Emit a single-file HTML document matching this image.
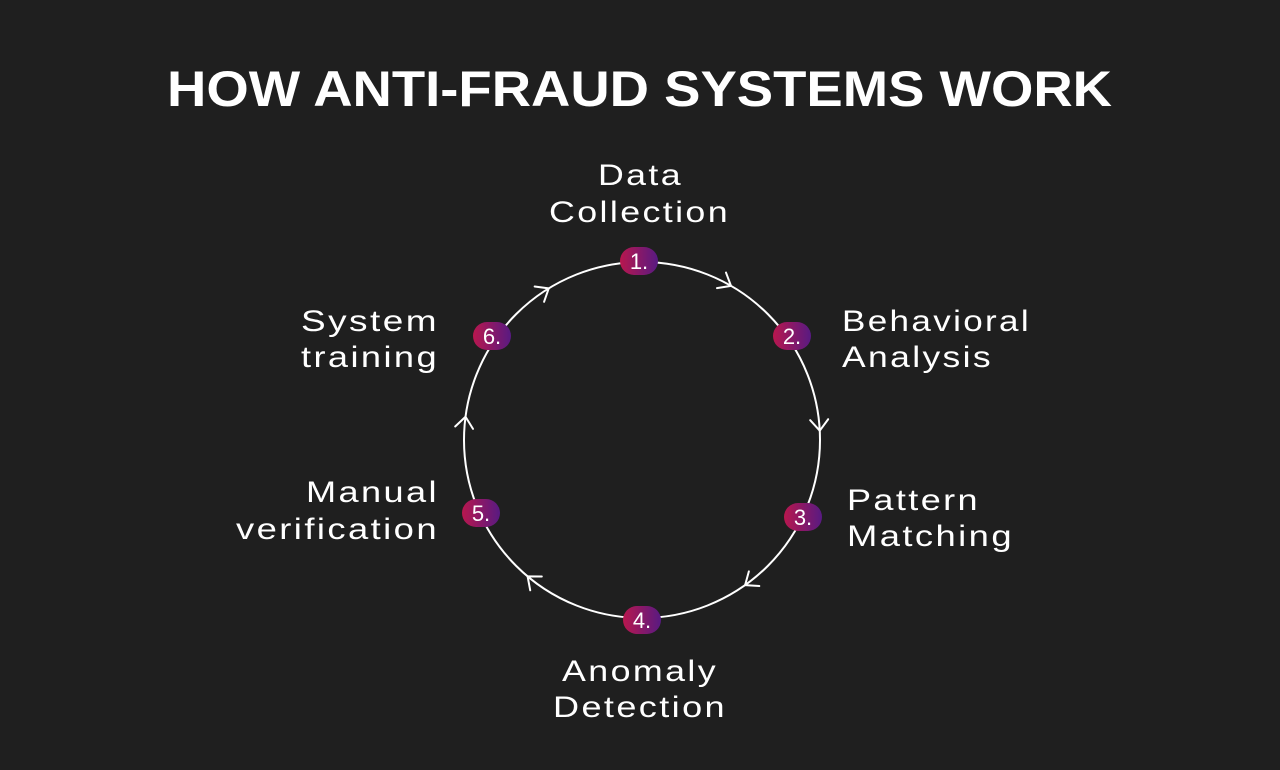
<!DOCTYPE html>
<html><head><meta charset="utf-8"><style>
html,body{margin:0;padding:0;background:#1f1f1f;}
svg{display:block}
text{font-family:"Liberation Sans",sans-serif;fill:#fff}
.l{font-size:30px;letter-spacing:2px}
.b{font-size:22px}
</style></head><body>
<svg width="1280" height="770" viewBox="0 0 1280 770">
<defs><linearGradient id="g" x1="0" x2="1" y1="0" y2="0"><stop offset="0" stop-color="#b8174e"/><stop offset="1" stop-color="#581a82"/></linearGradient></defs>
<rect width="1280" height="770" fill="#1f1f1f"/>
<text x="167" y="106" font-size="50" font-weight="bold" textLength="945" lengthAdjust="spacingAndGlyphs">HOW ANTI-FRAUD SYSTEMS WORK</text>
<circle cx="642" cy="440" r="178" fill="none" stroke="#fff" stroke-width="2"/>
<g fill="none" stroke="#fff" stroke-width="2" stroke-linecap="round" stroke-linejoin="round">
<g transform="rotate(-60,642,440) translate(820,440) rotate(90)"><polyline points="-11,-9 0,0 -11,9"/></g>
<g transform="rotate(-3,642,440) translate(820,440) rotate(90)"><polyline points="-11,-9 0,0 -11,9"/></g>
<g transform="rotate(54.6,642,440) translate(820,440) rotate(90)"><polyline points="-11,-9 0,0 -11,9"/></g>
<g transform="rotate(130,642,440) translate(820,440) rotate(90)"><polyline points="-11,-9 0,0 -11,9"/></g>
<g transform="rotate(187.5,642,440) translate(820,440) rotate(90)"><polyline points="-11,-9 0,0 -11,9"/></g>
<g transform="rotate(238.4,642,440) translate(820,440) rotate(90)"><polyline points="-11,-9 0,0 -11,9"/></g>
</g>
<g>
<rect x="620" y="247" width="38" height="28" rx="14" fill="url(#g)"/><text class="b" x="639" y="269" text-anchor="middle">1.</text>
<rect x="773" y="322" width="38" height="28" rx="14" fill="url(#g)"/><text class="b" x="792" y="344" text-anchor="middle">2.</text>
<rect x="784" y="503" width="38" height="28" rx="14" fill="url(#g)"/><text class="b" x="803" y="525" text-anchor="middle">3.</text>
<rect x="623" y="606" width="38" height="28" rx="14" fill="url(#g)"/><text class="b" x="642" y="628" text-anchor="middle">4.</text>
<rect x="462" y="499" width="38" height="28" rx="14" fill="url(#g)"/><text class="b" x="481" y="521" text-anchor="middle">5.</text>
<rect x="473" y="322" width="38" height="28" rx="14" fill="url(#g)"/><text class="b" x="492" y="344" text-anchor="middle">6.</text>
</g>
<text class="l" x="598" y="185" textLength="85" lengthAdjust="spacingAndGlyphs">Data</text>
<text class="l" x="549" y="222" textLength="181" lengthAdjust="spacingAndGlyphs">Collection</text>
<text class="l" x="842" y="331" textLength="189" lengthAdjust="spacingAndGlyphs">Behavioral</text>
<text class="l" x="842" y="367" textLength="151" lengthAdjust="spacingAndGlyphs">Analysis</text>
<text class="l" x="847" y="510" textLength="133" lengthAdjust="spacingAndGlyphs">Pattern</text>
<text class="l" x="847" y="546" textLength="167" lengthAdjust="spacingAndGlyphs">Matching</text>
<text class="l" x="562" y="681" textLength="156" lengthAdjust="spacingAndGlyphs">Anomaly</text>
<text class="l" x="553" y="717" textLength="174" lengthAdjust="spacingAndGlyphs">Detection</text>
<text class="l" x="306" y="502" textLength="133" lengthAdjust="spacingAndGlyphs">Manual</text>
<text class="l" x="236" y="539" textLength="203" lengthAdjust="spacingAndGlyphs">verification</text>
<text class="l" x="301" y="331" textLength="138" lengthAdjust="spacingAndGlyphs">System</text>
<text class="l" x="301" y="367" textLength="138" lengthAdjust="spacingAndGlyphs">training</text>
</svg>
</body></html>
